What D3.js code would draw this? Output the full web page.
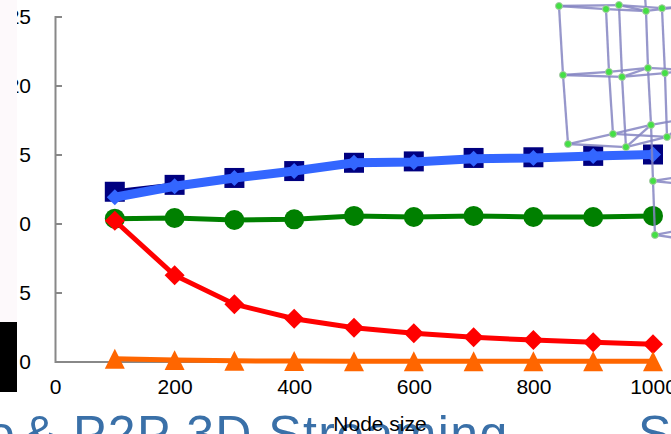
<!DOCTYPE html>
<html>
<head>
<meta charset="utf-8">
<script src="https://cdn.jsdelivr.net/npm/d3@7"></script>
<style>
  html, body { margin: 0; padding: 0; background: #fff; overflow: hidden; }
  svg { display: block; font-family: "Liberation Sans", Arial, sans-serif; }
</style>
</head>
<body>
<script>
const width = 671;
const height = 434;

const nodeSizes = [100, 200, 300, 400, 500, 600, 700, 800, 900, 1000];
const navySeries = [12.3, 12.8, 13.3, 13.8, 14.4, 14.5, 14.75, 14.8, 14.9, 15.0];
const blueSeries = [11.9, 12.7, 13.3, 13.8, 14.4, 14.45, 14.7, 14.75, 14.9, 15.0];
const greenSeries = [10.35, 10.4, 10.25, 10.3, 10.55, 10.47, 10.55, 10.47, 10.47, 10.55];
const redSeries = [10.2, 6.25, 4.15, 3.1, 2.45, 2.05, 1.75, 1.55, 1.4, 1.25];
const orangeSeries = [0.2, 0.1, 0.05, 0.03, 0.02, 0.02, 0.02, 0.02, 0.02, 0.02];

const xTicks = [0, 200, 400, 600, 800, 1000];
const yTicks = [0, 5, 10, 15, 20, 25];

const meshX = [842.8, 921.4, 943.1, 988.3, 1015, 849.5, 926.4, 948.2, 991.6, 1020, 857.9, 933.1, 954.8, 996.7, 1023.4, 1000, 1003.3];
const meshY = [25.76, 25.54, 25.83, 25.4, 25.6, 20.76, 20.98, 20.62, 21.27, 20.9, 15.76, 16.49, 15.54, 17.14, 16.27, 13.08, 9.17];
const meshOffX = [1062, 1062, 1062, 1062, 1062, 1062, 1062, 986.6];
const meshOffY = [25.76, 21.12, 17.64, 13.51, 9.67, 12.79, 8.8, 26.56];
const meshEdges = [
  [0, 1], [1, 3], [0, 2], [2, 3], [3, 17], [2, 4], [4, 17],
  [5, 6], [6, 8], [5, 7], [7, 9], [8, 18], [9, 18], [7, 8],
  [10, 11], [11, 13], [13, 19], [10, 12], [12, 14], [11, 14], [12, 13], [14, 19],
  [0, 5], [1, 6], [2, 7], [3, 8], [4, 9],
  [5, 10], [6, 11], [7, 12], [8, 13], [9, 14],
  [13, 15], [15, 16], [3, 24], [15, 20], [15, 22], [16, 21], [16, 23]
];

const svg = d3.select('body')
  .append('svg')
  .attr('width', width)
  .attr('height', height);

const xScale = d3.scaleLinear().domain([0, 1000]).range([55, 653]);
const yScale = d3.scaleLinear().domain([0, 25]).range([361.5, 16.5]);

// slide title behind the chart
const titleGroup = svg.append('g')
  .attr('fill', '#3a70a8')
  .attr('font-size', 50);
titleGroup.append('text').attr('x', -13).attr('y', 451).text('o');
titleGroup.append('text').attr('x', 23).attr('y', 451).attr('letter-spacing', 1.4).text('& P2P 3D Streaming');
titleGroup.append('text').attr('x', 638).attr('y', 451).text('S');

const xAxis = d3.axisBottom(xScale)
  .tickValues(xTicks)
  .tickFormat(d3.format('d'))
  .tickSize(0)
  .tickPadding(18);
const yAxis = d3.axisLeft(yScale)
  .tickValues(yTicks)
  .tickSize(-7)
  .tickPadding(24);

const xGroup = svg.append('g')
  .attr('transform', `translate(0, ${yScale(0)})`)
  .call(xAxis);
const yGroup = svg.append('g')
  .attr('transform', `translate(${xScale(0)}, 0)`)
  .call(yAxis);

[xGroup, yGroup].forEach(g => {
  g.selectAll('path, line').attr('stroke', '#888').attr('stroke-width', 2);
  g.selectAll('text').attr('font-size', 21).attr('font-family', '"Liberation Sans", Arial, sans-serif').attr('fill', '#000');
});

svg.append('text')
  .attr('x', 380)
  .attr('y', 431)
  .attr('text-anchor', 'middle')
  .attr('font-size', 21)
  .attr('fill', '#000')
  .text('Node size');

const line = d3.line()
  .x(d => xScale(d.x))
  .y(d => yScale(d.y));

const square = d3.symbol().type(d3.symbolSquare);
const circle = d3.symbol().type(d3.symbolCircle);
const triangle = d3.symbol().type(d3.symbolTriangle);

function drawSeries(values, color, lineWidth, symbol, transform) {
  const points = nodeSizes.map((x, i) => ({x: x, y: values[i]}));
  svg.append('path')
    .attr('d', line(points))
    .attr('fill', 'none')
    .attr('stroke', color)
    .attr('stroke-width', lineWidth);
  svg.append('g').selectAll('path')
    .data(points)
    .enter()
    .append('path')
    .attr('d', symbol)
    .attr('fill', color)
    .attr('transform', d => `translate(${xScale(d.x)}, ${yScale(d.y)}) ${transform}`);
}

drawSeries(navySeries, '#000080', 5, square.size(400)(), '');
drawSeries(blueSeries, '#3366ff', 9, square.size(128)(), 'rotate(45)');
drawSeries(greenSeries, '#008000', 5, circle.size(314)(), '');
drawSeries(redSeries, '#ff0000', 5, square.size(200)(), 'rotate(45)');
drawSeries(orangeSeries, '#ff6600', 5, triangle.size(173)(), 'translate(0, 3.3) scale(1, 1.15)');

// mesh sits on top of the chart
const meshPoints = meshX.map((x, i) => ({x: x, y: meshY[i]}))
  .concat(meshOffX.map((x, i) => ({x: x, y: meshOffY[i]})));

svg.append('g').selectAll('line')
  .data(meshEdges)
  .enter()
  .append('line')
  .attr('x1', d => xScale(meshPoints[d[0]].x))
  .attr('y1', d => yScale(meshPoints[d[0]].y))
  .attr('x2', d => xScale(meshPoints[d[1]].x))
  .attr('y2', d => yScale(meshPoints[d[1]].y))
  .attr('stroke', '#8585c2')
  .attr('stroke-opacity', 0.85)
  .attr('stroke-width', 2.3);

svg.append('g').selectAll('circle')
  .data(meshX.map((x, i) => ({x: x, y: meshY[i]})))
  .enter()
  .append('circle')
  .attr('cx', d => xScale(d.x))
  .attr('cy', d => yScale(d.y))
  .attr('r', 3.5)
  .attr('fill', '#44e044')
  .attr('stroke', '#a8c8a8')
  .attr('stroke-width', 1);

// slide panel on the left covers part of the tick labels
svg.append('rect').attr('width', 17).attr('height', 322).attr('fill', '#fdf9fb');
svg.append('rect').attr('x', 17).attr('y', 120).attr('width', 2).attr('height', 202).attr('fill', '#fff');
svg.append('rect').attr('y', 322).attr('width', 17).attr('height', 70).attr('fill', '#000');
</script>
</body>
</html>
